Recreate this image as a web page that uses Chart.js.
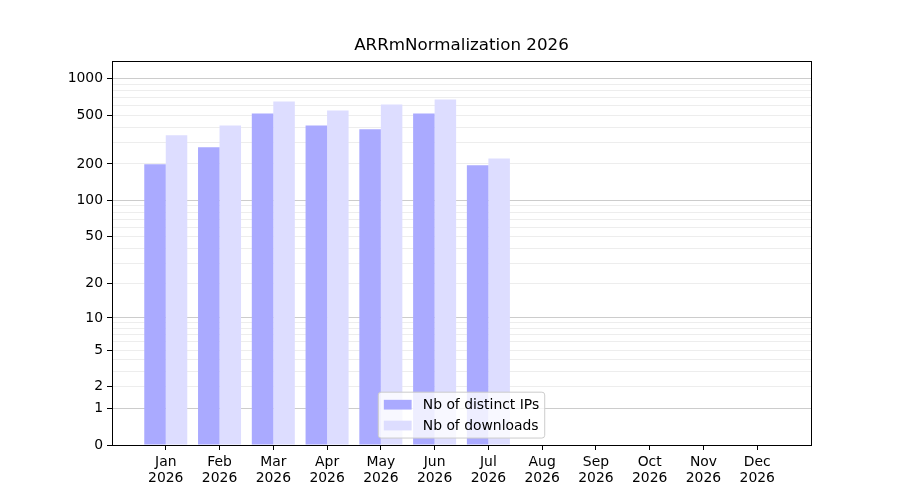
<!DOCTYPE html>
<html>
<head>
<meta charset="utf-8">
<script src="https://cdn.jsdelivr.net/npm/chart.js@4/dist/chart.umd.min.js"></script>
<style>
  html, body { margin: 0; padding: 0; background: #fff; }
  canvas { display: block; }
</style>
</head>
<body>
<canvas id="chart" width="900" height="500"></canvas>
<script>
// chart data
const chartTitle = 'ARRmNormalization 2026';
const months = ['Jan', 'Feb', 'Mar', 'Apr', 'May', 'Jun', 'Jul', 'Aug', 'Sep', 'Oct', 'Nov', 'Dec'];
const year = '2026';
const distinctIPs = [199, 274, 520, 415, 385, 520, 195];
const downloads = [344, 415, 652, 551, 617, 678, 222];
const seriesLabels = ['Nb of distinct IPs', 'Nb of downloads'];

// y axis: labelled ticks and all grid values
const yTickLabels = [0, 1, 2, 5, 10, 20, 50, 100, 200, 500, 1000];
const yGridValues = [0, 1, 2, 3, 4, 5, 6, 7, 8, 9,
  10, 20, 30, 40, 50, 60, 70, 80, 90,
  100, 200, 300, 400, 500, 600, 700, 800, 900, 1000];
const yMajorGrid = [1, 10, 100, 1000];

const FONT = 'DejaVu Sans';
const FS = 13.9;

// y scale that maps v -> log10(1 + v), like the picture's axis
const f = v => Math.log10(1 + v);
class Log1pScale extends Chart.Scale {
  determineDataLimits() {
    this.min = this.options.min ?? 0;
    this.max = this.options.max ?? 1000;
  }
  buildTicks() {
    return yGridValues.map(v => ({ value: v }));
  }
  configure() {
    super.configure();
    this._start = f(this.min);
    this._range = f(this.max) - f(this.min);
  }
  getLabelForValue(value) {
    return String(value);
  }
  getPixelForValue(value) {
    if (value === undefined || value === null || isNaN(value)) return NaN;
    return this.getPixelForDecimal((f(value) - this._start) / this._range);
  }
  getValueForPixel(pixel) {
    return Math.pow(10, this._start + this.getDecimalForPixel(pixel) * this._range) - 1;
  }
}
Log1pScale.id = 'log1p';
Log1pScale.defaults = {};
Chart.register(Log1pScale);

// frame on all four sides + matplotlib-like legend
const framePlugin = {
  id: 'frame',
  afterDraw(chart) {
    const { ctx, chartArea: a } = chart;
    ctx.save();
    ctx.strokeStyle = '#000';
    ctx.lineWidth = 1;
    ctx.strokeRect(Math.round(a.left) + 0.5, Math.round(a.top) + 0.5,
      Math.round(a.right - a.left), Math.round(a.bottom - a.top));

    // legend, lower center
    ctx.font = FS + 'px "' + FONT + '"';
    const sets = chart.data.datasets;
    const tw = Math.max(...sets.map(d => ctx.measureText(d.label).width));
    const pad = 0.4 * FS, hl = 2 * FS, htp = 0.8 * FS, ls = 0.5 * FS, hh = 0.7 * FS;
    const w = 2 * pad + hl + htp + tw;
    const h = 2 * pad + sets.length * FS + (sets.length - 1) * ls;
    const x = (a.left + a.right) / 2 - w / 2;
    const y = a.bottom - 0.5 * FS - h;
    ctx.beginPath();
    ctx.roundRect(x, y, w, h, 0.2 * FS);
    ctx.fillStyle = 'rgba(255,255,255,0.8)';
    ctx.fill();
    ctx.strokeStyle = '#cccccc';
    ctx.stroke();
    ctx.textBaseline = 'middle';
    ctx.textAlign = 'left';
    sets.forEach((d, i) => {
      const cy = y + pad + FS / 2 + i * (FS + ls);
      ctx.fillStyle = d.backgroundColor;
      ctx.fillRect(x + pad, cy - hh / 2, hl, hh);
      ctx.fillStyle = '#000';
      ctx.fillText(d.label, x + pad + hl + htp, cy + 1);
    });
    ctx.restore();
  }
};

Chart.defaults.font.family = FONT;
Chart.defaults.font.size = FS;
Chart.defaults.color = '#000';

new Chart(document.getElementById('chart').getContext('2d'), {
  type: 'bar',
  data: {
    datasets: [
      {
        label: seriesLabels[0],
        data: distinctIPs.map((v, i) => ({ x: i, y: v })),
        backgroundColor: '#aaaaff',
        borderWidth: 0,
        categoryPercentage: 0.8,
        barPercentage: 1.0
      },
      {
        label: seriesLabels[1],
        data: downloads.map((v, i) => ({ x: i, y: v })),
        backgroundColor: '#ddddff',
        borderWidth: 0,
        categoryPercentage: 0.8,
        barPercentage: 1.0
      }
    ]
  },
  options: {
    responsive: false,
    animation: false,
    devicePixelRatio: 1,
    layout: { padding: { left: 0, right: 89, top: 0, bottom: 0 } },
    plugins: {
      legend: { display: false },
      tooltip: { enabled: false },
      title: {
        display: true,
        fullSize: false,
        text: chartTitle,
        color: '#000',
        font: { family: FONT, size: 16.7, weight: 'normal' },
        padding: { top: 35.5, bottom: 5.5 }
      }
    },
    scales: {
      x: {
        type: 'linear',
        min: -1,
        max: 12,
        offset: false,
        afterBuildTicks: scale => {
          scale.ticks = months.map((m, i) => ({ value: i }));
        },
        afterFit: scale => { scale.height = 55; },
        ticks: {
          autoSkip: false,
          maxRotation: 0,
          padding: 4,
          font: { size: FS, lineHeight: 1.15 },
          callback: v => (months[v] !== undefined ? [months[v], year] : '')
        },
        grid: {
          offset: false,
          drawOnChartArea: false,
          tickLength: 5,
          tickColor: '#000'
        },
        border: { color: '#000', width: 1 }
      },
      y: {
        type: 'log1p',
        min: 0,
        max: 1400,
        z: 1,
        afterFit: scale => { scale.width = 112; },
        ticks: {
          autoSkip: false,
          padding: 4,
          callback: v => (yTickLabels.includes(v) ? String(v) : '')
        },
        grid: {
          tickLength: 5,
          color: c => {
            const v = c.tick ? c.tick.value : null;
            if (v === 0) return 'rgba(0,0,0,0)';
            return yMajorGrid.includes(v) ? 'rgba(0,0,0,0.2)' : 'rgba(0,0,0,0.07)';
          },
          tickColor: c => (c.tick && yTickLabels.includes(c.tick.value) ? '#000' : 'rgba(0,0,0,0)')
        },
        border: { color: '#000', width: 1 }
      }
    }
  },
  plugins: [framePlugin]
});
</script>
</body>
</html>
